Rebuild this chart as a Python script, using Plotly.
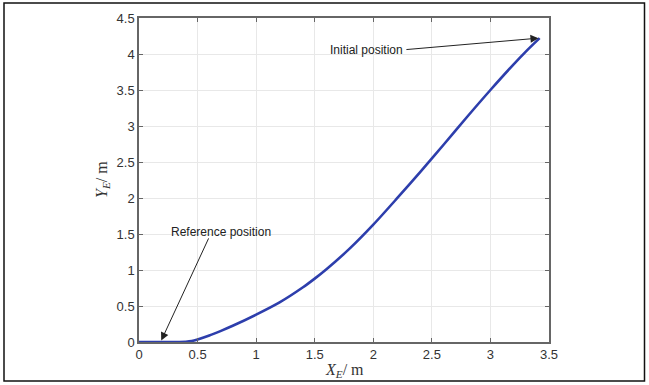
import plotly.graph_objects as go

# Trajectory data
x_vals = [0.0, 0.2, 0.4, 0.45, 0.5, 0.6, 0.7, 0.8, 1.0, 1.2, 1.4, 1.5, 1.6, 1.8, 2.0, 2.2, 2.4, 2.6, 2.8, 3.0, 3.2, 3.3, 3.42]
y_vals = [0.0, 0.0, 0.004, 0.013, 0.035, 0.09, 0.155, 0.225, 0.38, 0.55, 0.76, 0.88, 1.01, 1.30, 1.63, 1.99, 2.36, 2.74, 3.125, 3.50, 3.86, 4.03, 4.22]

x_ticks = [0, 0.5, 1, 1.5, 2, 2.5, 3, 3.5]
x_tick_labels = ["0", "0.5", "1", "1.5", "2", "2.5", "3", "3.5"]
y_ticks = [0, 0.5, 1, 1.5, 2, 2.5, 3, 3.5, 4, 4.5]
y_tick_labels = ["0", "0.5", "1", "1.5", "2", "2.5", "3", "3.5", "4", "4.5"]

ref_label = "Reference position"
ref_text_pos = (0.70, 1.53)
ref_arrow_tail = (0.60, 1.46)
ref_arrow_head = (0.19, 0.02)

init_label = "Initial position"
init_text_pos = (1.94, 4.06)
init_arrow_tail = (2.27, 4.06)
init_arrow_head = (3.41, 4.22)

fig = go.Figure()
fig.add_trace(go.Scatter(
    x=x_vals, y=y_vals, mode="lines",
    line=dict(color="rgb(45,62,172)", width=2.6, shape="spline", smoothing=0.8),
    showlegend=False, hoverinfo="skip",
))

axis_common = dict(
    showgrid=True, gridcolor="#e8e8e8", gridwidth=1,
    showline=True, linecolor="#666666", linewidth=1.5, mirror="ticks",
    ticks="inside", ticklen=4, tickcolor="#666666",
    zeroline=False,
    tickfont=dict(family="Liberation Sans, Arial", size=13, color="#333333"),
)

fig.update_xaxes(range=[0, 3.5], tickvals=x_ticks, ticktext=x_tick_labels, **axis_common)
fig.update_yaxes(range=[0, 4.5], tickvals=y_ticks, ticktext=y_tick_labels, **axis_common)

ann_font = dict(family="Liberation Sans, Arial", size=12, color="#222222")

annotations = [
    # arrows
    dict(x=ref_arrow_head[0], y=ref_arrow_head[1], ax=ref_arrow_tail[0], ay=ref_arrow_tail[1],
         xref="x", yref="y", axref="x", ayref="y", text="", showarrow=True,
         arrowhead=2, arrowsize=1.6, arrowwidth=1, arrowcolor="#222222"),
    dict(x=init_arrow_head[0], y=init_arrow_head[1], ax=init_arrow_tail[0], ay=init_arrow_tail[1],
         xref="x", yref="y", axref="x", ayref="y", text="", showarrow=True,
         arrowhead=2, arrowsize=1.6, arrowwidth=1, arrowcolor="#222222"),
    # labels
    dict(x=ref_text_pos[0], y=ref_text_pos[1], xref="x", yref="y", text=ref_label,
         showarrow=False, font=ann_font),
    dict(x=init_text_pos[0], y=init_text_pos[1], xref="x", yref="y", text=init_label,
         showarrow=False, font=ann_font),
    # axis titles
    dict(x=0.5, y=-(370 - 342) / 324, xref="paper", yref="paper", yanchor="middle",
         text="<i>X</i><sub><i>E</i></sub>/ m", showarrow=False,
         font=dict(family="Liberation Serif, Times New Roman", size=16, color="#333333")),
    dict(x=(102 - 139) / 410, y=0.5, xref="paper", yref="paper", xanchor="center",
         text="<i>Y</i><sub><i>E</i></sub>/ m", showarrow=False, textangle=-90,
         font=dict(family="Liberation Serif, Times New Roman", size=16, color="#333333")),
]

fig.update_layout(
    width=649, height=385,
    margin=dict(l=139, r=100, t=18, b=43),
    paper_bgcolor="white", plot_bgcolor="white",
    annotations=annotations,
    shapes=[dict(type="rect", xref="paper", yref="paper",
                 x0=-135/410, x1=(644.5 - 139) / 410, y0=-(381 - 342) / 324, y1=1 + 15 / 324,
                 line=dict(color="#111111", width=1.5), fillcolor="rgba(0,0,0,0)", layer="below")],
)

fig.write_html("out.html")
